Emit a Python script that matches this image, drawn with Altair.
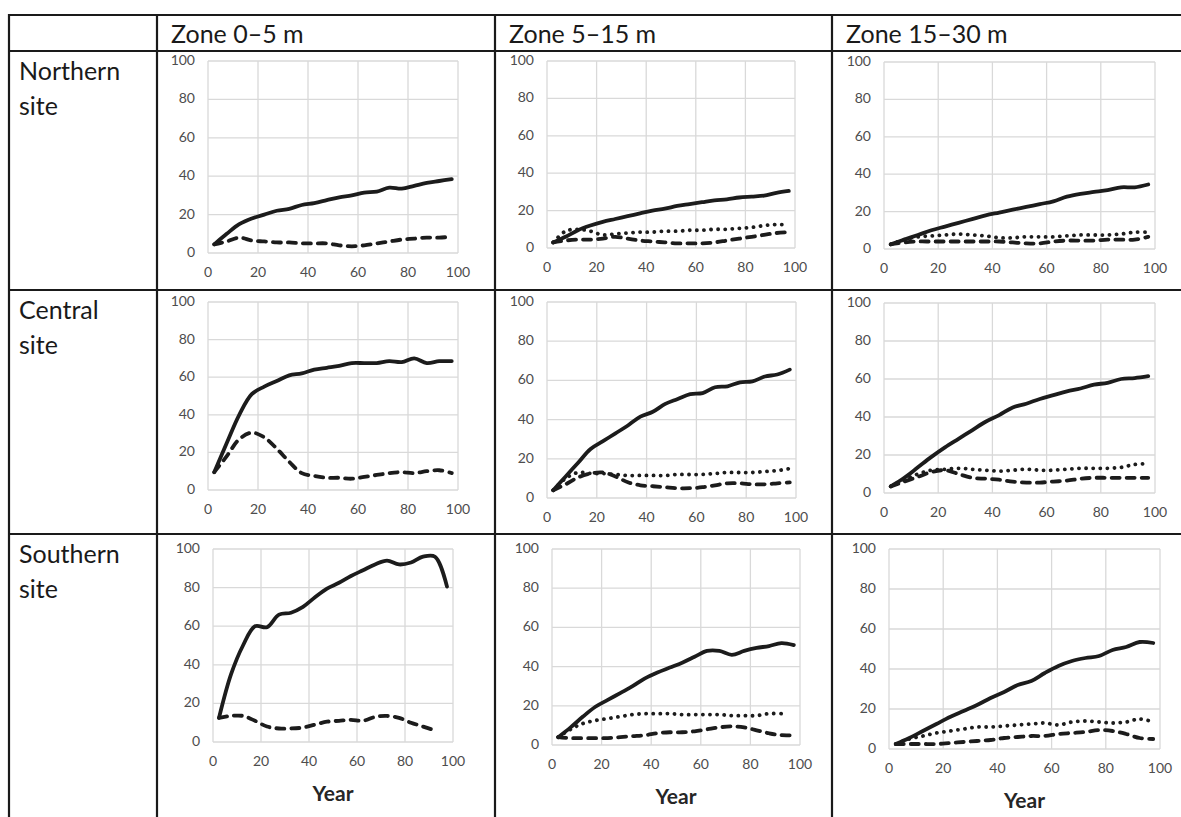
import altair as alt
import pandas as pd

# ---------------- data ----------------
years = [2.5 + 5 * i for i in range(20)]
ticks = [0, 20, 40, 60, 80, 100]
zones = ["Zone 0–5 m", "Zone 5–15 m", "Zone 15–30 m"]
sites = [["Northern", "site"], ["Central", "site"], ["Southern", "site"]]
x_title = "Year"

north_0_5_solid = [4.5, 10, 15, 18, 20, 22, 23, 25, 26, 27.5, 29, 30, 31.5, 32, 34, 33.5, 35, 36.5, 37.5, 38.5]
north_0_5_dashed = [4.5, 6, 8, 6.5, 6, 5.5, 5.5, 5, 5, 5, 4, 3.5, 4, 5, 6, 7, 7.5, 8, 8, 8.5]

north_5_15_solid = [3, 6, 9.5, 12, 14, 15.5, 17, 18.5, 20, 21, 22.5, 23.5, 24.5, 25.5, 26, 27, 27.5, 28, 29.5, 30.5]
north_5_15_dotted = [3, 9, 10, 9, 7, 7.5, 8, 8.5, 8.5, 9, 9, 9.5, 9.5, 10, 10, 10.5, 11, 12, 12.5, 12.5]
north_5_15_dashed = [3, 4, 4.5, 4.5, 5, 6, 5, 4, 3.5, 3, 2.5, 2.5, 2.5, 3, 4, 5, 6, 7, 8, 8.5]

north_15_30_solid = [2.5, 5, 7.5, 10, 12, 14, 16, 18, 19.5, 21, 22.5, 24, 25.5, 28, 29.5, 30.5, 31.5, 33, 33, 34.5]
north_15_30_dotted = [2.5, 5, 6.5, 7, 7.5, 8, 7.5, 7, 6, 6, 6.5, 6.5, 6.5, 7, 7.5, 7.5, 7.5, 8, 9, 9]
north_15_30_dashed = [2.5, 3.5, 4, 4, 4, 4, 4, 4, 4, 3.5, 3, 3, 4, 4.5, 4.5, 4.5, 5, 5, 5, 6.5]

central_0_5_solid = [9.5, 25, 40, 51, 55, 58, 61, 62, 64, 65, 66, 67.5, 67.5, 67.5, 68.5, 68, 70, 67.5, 68.5, 68.5]
central_0_5_dashed = [9.5, 18, 27, 30.5, 28, 22, 15, 9, 7.5, 6.5, 6.5, 6, 7, 8, 9, 9.5, 9, 10, 10.5, 9]

central_5_15_solid = [4, 11, 18, 25, 29, 33, 37, 41.5, 44, 48, 50.5, 53, 53.5, 56.5, 57, 59, 59.5, 62, 63, 65.5]
central_5_15_dotted = [4, 10, 13, 12.5, 12.5, 12, 11.5, 11.5, 11.5, 11.5, 12, 12, 12, 12.5, 13, 13, 13, 13.5, 14, 15]
central_5_15_dashed = [4, 7, 10.5, 12.5, 13, 11, 8, 6.5, 6, 5.5, 5, 5, 5.5, 6.5, 7.5, 7.5, 7, 7, 7.5, 8]

central_15_30_solid = [3.5, 8, 13.5, 19, 24, 28.5, 33, 37.5, 41, 45, 47, 49.5, 51.5, 53.5, 55, 57, 58, 60, 60.5, 61.5]
central_15_30_dotted = [3.5, 7, 10, 12, 12.5, 13, 12.5, 12, 11.5, 12, 12.5, 12, 12, 12.5, 13, 13, 13, 13.5, 15, 15.5]
central_15_30_dashed = [3.5, 6, 8.5, 11, 12, 10, 8, 7.5, 7, 6, 5.5, 5.5, 6, 6.5, 7.5, 8, 8, 8, 8, 8]

south_0_5_solid = [12.5, 35, 50, 60, 59.5, 66, 67, 70, 75, 79.5, 82.5, 86, 89, 92, 94, 92, 93, 96, 96, 80.5]
south_0_5_dashed = [12.5, 13.5, 13.5, 11, 8, 7, 7, 7.5, 9, 10.5, 11, 11.5, 11, 13, 13.5, 12.5, 10, 8, 6, None]

south_5_15_solid = [4, 9, 14.5, 19.5, 23, 26.5, 30, 34, 37, 39.5, 42, 45, 48, 48, 46, 48, 49.5, 50.5, 52, 51]
south_5_15_dotted = [4, 8, 11, 12.5, 13.5, 14.5, 15.5, 16, 16, 16, 15.5, 15.5, 15.5, 15.5, 15, 15, 15, 16, 16, None]
south_5_15_dashed = [4, 3.5, 3.5, 3.5, 3.5, 4, 4.5, 5, 6, 6.5, 6.5, 7, 8, 9, 9.5, 9, 7.5, 6, 5, 5]

south_15_30_solid = [2.5, 5.5, 9, 12.5, 16, 19, 22, 25.5, 28.5, 32, 34, 38, 41.5, 44, 45.5, 46.5, 49.5, 51, 53.5, 53]
south_15_30_dotted = [2.5, 5, 6.5, 8, 9, 10, 11, 11, 11.5, 12, 12.5, 13, 12, 13.5, 14, 13.5, 13, 13.5, 15, 13.5]
south_15_30_dashed = [2.5, 2.5, 2.5, 2.5, 3, 3.5, 4, 4.5, 5.5, 6, 6.5, 6.5, 7.5, 8, 8.5, 9.5, 9, 7.5, 5.5, 5]

panel_series = {
    (0, 0): (north_0_5_solid, None, north_0_5_dashed),
    (0, 1): (north_5_15_solid, north_5_15_dotted, north_5_15_dashed),
    (0, 2): (north_15_30_solid, north_15_30_dotted, north_15_30_dashed),
    (1, 0): (central_0_5_solid, None, central_0_5_dashed),
    (1, 1): (central_5_15_solid, central_5_15_dotted, central_5_15_dashed),
    (1, 2): (central_15_30_solid, central_15_30_dotted, central_15_30_dashed),
    (2, 0): (south_0_5_solid, None, south_0_5_dashed),
    (2, 1): (south_5_15_solid, south_5_15_dotted, south_5_15_dashed),
    (2, 2): (south_15_30_solid, south_15_30_dotted, south_15_30_dashed),
}

# ---------------- layout (pixels) ----------------
W, H = 1181, 817
plot_box = {  # x_left, x_right, y_bottom, y_top of each plot area
    (0, 0): (208, 458, 253, 61),
    (0, 1): (547, 795, 248, 61),
    (0, 2): (884, 1155, 249, 62),
    (1, 0): (208, 458, 490, 302),
    (1, 1): (547, 796, 498, 302),
    (1, 2): (884, 1155, 493, 303),
    (2, 0): (213, 453, 742, 549),
    (2, 1): (552, 800, 745, 549),
    (2, 2): (889, 1160, 749, 549),
}
h_lines = [15, 51, 290, 534]
v_lines = [9, 157, 495, 832]
header_x = [171, 509, 846]
header_y = 43
row_label_x = 19
row_label_y = [80, 319, 563]

FONT = "Lato"
LINE_COLOR = "#1c1c1c"
GRID = "#d9d9d9"
TICK_COLOR = "#4d4d4d"

one = pd.DataFrame({"a": [0]})


def panel(r, c):
    x0, x1, yb, yt = plot_box[(r, c)]
    xs = alt.Scale(domain=[0, 100], range=[x0, x1], nice=False, zero=False)
    ys = alt.Scale(domain=[0, 100], range=[yb, yt], nice=False, zero=False)
    g = pd.DataFrame({"t": ticks, "lo": [0] * len(ticks), "hi": [100] * len(ticks)})

    vgrid = alt.Chart(g).mark_rule(color=GRID, strokeWidth=1.3).encode(
        x=alt.X("t:Q", scale=xs, axis=None),
        y=alt.Y("lo:Q", scale=ys, axis=None),
        y2="hi:Q",
    )
    hgrid = alt.Chart(g).mark_rule(color=GRID, strokeWidth=1.3).encode(
        y=alt.Y("t:Q", scale=ys, axis=None),
        x=alt.X("lo:Q", scale=xs, axis=None),
        x2="hi:Q",
    )
    xlab = alt.Chart(g).mark_text(
        font=FONT, fontSize=14, color=TICK_COLOR, dy=20, baseline="middle", align="center"
    ).encode(
        x=alt.X("t:Q", scale=xs, axis=None),
        y=alt.Y("lo:Q", scale=ys, axis=None),
        text="t:Q",
    )
    ylab = alt.Chart(g).mark_text(
        font=FONT, fontSize=14, color=TICK_COLOR, dx=-13, baseline="middle", align="right"
    ).encode(
        y=alt.Y("t:Q", scale=ys, axis=None),
        x=alt.X("lo:Q", scale=xs, axis=None),
        text="t:Q",
    )
    layers = [vgrid, hgrid, xlab, ylab]

    solid, dotted, dashed = panel_series[(r, c)]
    styles = [
        (solid, dict(strokeWidth=3.8)),
        (dotted, dict(strokeWidth=3.8, strokeDash=[0.1, 7])),
        (dashed, dict(strokeWidth=3.8, strokeDash=[8, 7])),
    ]
    for vals, st in styles:
        if vals is None:
            continue
        df = pd.DataFrame({"year": years, "value": vals}).dropna()
        layers.append(
            alt.Chart(df).mark_line(
                color=LINE_COLOR, interpolate="catmull-rom", strokeCap="round",
                strokeJoin="round", **st
            ).encode(
                x=alt.X("year:Q", scale=xs, axis=None),
                y=alt.Y("value:Q", scale=ys, axis=None),
            )
        )
    if r == 2:
        t = pd.DataFrame({"x": [50], "y": [0], "lab": [x_title]})
        layers.append(
            alt.Chart(t).mark_text(
                font=FONT, fontSize=21, fontWeight="bold", color="#262626",
                dy=53, baseline="middle", align="center"
            ).encode(
                x=alt.X("x:Q", scale=xs, axis=None),
                y=alt.Y("y:Q", scale=ys, axis=None),
                text="lab:N",
            )
        )
    return alt.layer(*layers)


panels = [panel(r, c) for r in range(3) for c in range(3)]

table = []
for y in h_lines:
    table.append(alt.Chart(one).mark_rule(color="#1a1a1a", strokeWidth=2.2).encode(
        x=alt.value(v_lines[0] - 1), x2=alt.value(W), y=alt.value(y)))
for x in v_lines:
    table.append(alt.Chart(one).mark_rule(color="#1a1a1a", strokeWidth=2.2).encode(
        x=alt.value(x), y=alt.value(h_lines[0] - 1), y2=alt.value(H)))

texts = []
for i, z in enumerate(zones):
    texts.append(alt.Chart(one).mark_text(
        text=z, font=FONT, fontSize=25, color="#1a1a1a", align="left", baseline="alphabetic"
    ).encode(x=alt.value(header_x[i]), y=alt.value(header_y)))
for i, s in enumerate(sites):
    texts.append(alt.Chart(one).mark_text(
        text=s, font=FONT, fontSize=25, color="#1a1a1a", align="left",
        baseline="alphabetic", lineHeight=35
    ).encode(x=alt.value(row_label_x), y=alt.value(row_label_y[i])))

chart = alt.layer(*panels, *table, *texts).resolve_scale(
    x="independent", y="independent"
).properties(
    width=W, height=H, padding=0, autosize=alt.AutoSizeParams(type="none"),
    background="white",
).configure_view(stroke=None)

chart.save("out.html", embed_options={"renderer": "svg", "actions": False})
